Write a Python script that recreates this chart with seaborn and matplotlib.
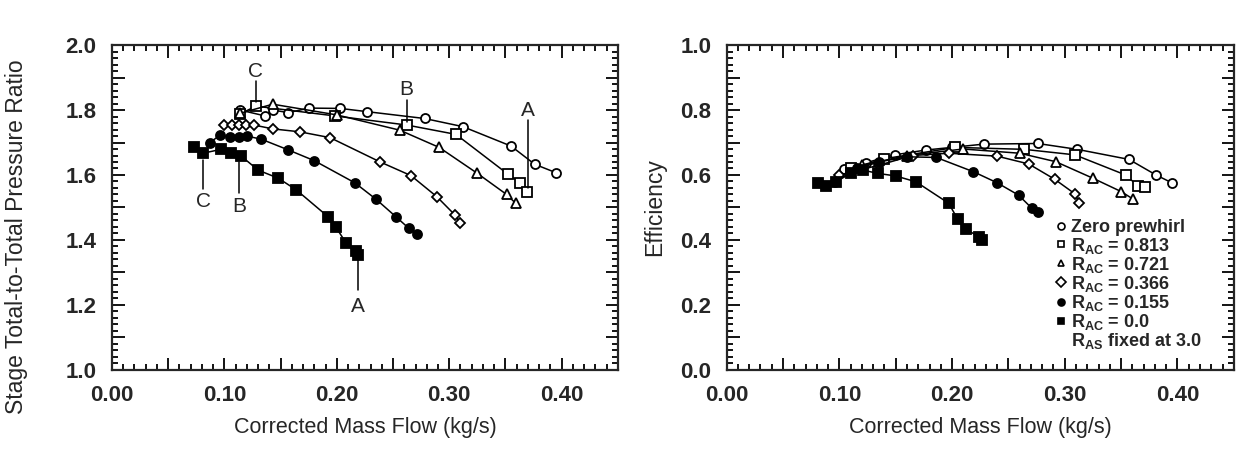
import numpy as np
import pandas as pd
import matplotlib
matplotlib.use("Agg")
import matplotlib.pyplot as plt
from matplotlib.lines import Line2D
from matplotlib.ticker import MultipleLocator
import seaborn as sns

# %% Data (mass flow in kg/s)
series_names = ["zero", "0.813", "0.721", "0.366", "0.155", "0.0"]

# Stage total-to-total pressure ratio
pr_zero_x = [0.114, 0.136, 0.143, 0.157, 0.175, 0.203, 0.227, 0.278, 0.312, 0.355, 0.376, 0.395]
pr_zero_y = [1.800, 1.782, 1.800, 1.792, 1.806, 1.805, 1.795, 1.774, 1.749, 1.689, 1.633, 1.607]
pr_813_x = [0.114, 0.128, 0.198, 0.262, 0.306, 0.352, 0.363, 0.369]
pr_813_y = [1.788, 1.812, 1.782, 1.754, 1.725, 1.603, 1.576, 1.549]
pr_721_x = [0.114, 0.143, 0.200, 0.256, 0.291, 0.325, 0.351, 0.359]
pr_721_y = [1.790, 1.818, 1.785, 1.738, 1.685, 1.605, 1.540, 1.513]
pr_366_x = [0.100, 0.107, 0.113, 0.119, 0.126, 0.143, 0.167, 0.194, 0.238, 0.266, 0.289, 0.305, 0.310]
pr_366_y = [1.754, 1.754, 1.754, 1.754, 1.754, 1.742, 1.733, 1.715, 1.641, 1.598, 1.533, 1.477, 1.451]
pr_155_x = [0.087, 0.096, 0.105, 0.113, 0.120, 0.133, 0.157, 0.180, 0.216, 0.235, 0.253, 0.264, 0.271]
pr_155_y = [1.699, 1.723, 1.716, 1.716, 1.720, 1.710, 1.677, 1.644, 1.576, 1.525, 1.470, 1.436, 1.418]
pr_0_x = [0.073, 0.081, 0.097, 0.106, 0.115, 0.130, 0.148, 0.164, 0.192, 0.199, 0.208, 0.217, 0.219]
pr_0_y = [1.685, 1.667, 1.679, 1.667, 1.658, 1.615, 1.590, 1.554, 1.472, 1.440, 1.392, 1.365, 1.354]

# Efficiency
eff_zero_x = [0.104, 0.124, 0.149, 0.177, 0.200, 0.228, 0.276, 0.311, 0.357, 0.381, 0.395]
eff_zero_y = [0.617, 0.638, 0.662, 0.677, 0.685, 0.695, 0.697, 0.679, 0.648, 0.600, 0.576]
eff_813_x = [0.110, 0.140, 0.203, 0.264, 0.309, 0.354, 0.365, 0.371]
eff_813_y = [0.620, 0.650, 0.685, 0.679, 0.662, 0.600, 0.566, 0.564]
eff_721_x = [0.120, 0.160, 0.210, 0.260, 0.292, 0.325, 0.350, 0.361]
eff_721_y = [0.630, 0.660, 0.680, 0.667, 0.641, 0.590, 0.549, 0.525]
eff_366_x = [0.100, 0.135, 0.165, 0.197, 0.240, 0.268, 0.291, 0.309, 0.313]
eff_366_y = [0.600, 0.630, 0.660, 0.667, 0.658, 0.634, 0.587, 0.542, 0.513]
eff_155_x = [0.096, 0.116, 0.135, 0.160, 0.186, 0.219, 0.240, 0.259, 0.271, 0.276]
eff_155_y = [0.579, 0.620, 0.640, 0.656, 0.654, 0.610, 0.576, 0.538, 0.497, 0.487]
eff_0_x = [0.081, 0.088, 0.097, 0.110, 0.121, 0.134, 0.150, 0.168, 0.197, 0.205, 0.212, 0.224, 0.227]
eff_0_y = [0.576, 0.566, 0.579, 0.605, 0.615, 0.605, 0.597, 0.579, 0.513, 0.464, 0.433, 0.410, 0.400]

legend_labels = ["Zero prewhirl",
                 r"$\mathregular{R_{AC}}$ = 0.813",
                 r"$\mathregular{R_{AC}}$ = 0.721",
                 r"$\mathregular{R_{AC}}$ = 0.366",
                 r"$\mathregular{R_{AC}}$ = 0.155",
                 r"$\mathregular{R_{AC}}$ = 0.0",
                 r"$\mathregular{R_{AS}}$ fixed at 3.0"]

# (label, x, y_text, y_line_top, y_line_bottom)
pr_callouts = [("C", 0.128, 1.918, 1.890, 1.826),
               ("B", 0.262, 1.862, 1.830, 1.762),
               ("A", 0.370, 1.800, 1.770, 1.560),
               ("C", 0.081, 1.518, 1.646, 1.556),
               ("B", 0.113, 1.503, 1.641, 1.546),
               ("A", 0.219, 1.195, 1.338, 1.246)]

# %% Build long tables
def make_frame(xs, ys):
    parts = []
    for name, x, y in zip(series_names, xs, ys):
        parts.append(pd.DataFrame({"series": name, "flow": x, "value": y}))
    return pd.concat(parts, ignore_index=True)


pr_df = make_frame([pr_zero_x, pr_813_x, pr_721_x, pr_366_x, pr_155_x, pr_0_x],
                   [pr_zero_y, pr_813_y, pr_721_y, pr_366_y, pr_155_y, pr_0_y])
eff_df = make_frame([eff_zero_x, eff_813_x, eff_721_x, eff_366_x, eff_155_x, eff_0_x],
                    [eff_zero_y, eff_813_y, eff_721_y, eff_366_y, eff_155_y, eff_0_y])

markers = {"zero": "o", "0.813": "s", "0.721": "^", "0.366": "D", "0.155": "o", "0.0": "s"}
faces = {"zero": "white", "0.813": "white", "0.721": "white", "0.366": "white",
         "0.155": "black", "0.0": "black"}
msizes = {"zero": 6.5, "0.813": 6.5, "0.721": 6.5, "0.366": 4.8, "0.155": 6.5, "0.0": 6.5}

# %% Style
sns.set_style("ticks")
plt.rcParams["font.family"] = ["Liberation Sans", "DejaVu Sans"]
plt.rcParams["mathtext.fontset"] = "custom"
plt.rcParams["mathtext.rm"] = "Liberation Sans"
plt.rcParams["mathtext.bf"] = "Liberation Sans:bold"
plt.rcParams["axes.linewidth"] = 1.6

fig = plt.figure(figsize=(12.4, 4.51), dpi=100)
ax1 = fig.add_axes([0.0903, 0.18, 0.408, 0.72])
ax2 = fig.add_axes([0.586, 0.18, 0.409, 0.72])


def draw(ax, df):
    for name in series_names:
        sub = df[df["series"] == name]
        sns.lineplot(data=sub, x="flow", y="value", sort=False, estimator=None,
                     color="black", lw=1.1, marker=markers[name],
                     markersize=msizes[name], markerfacecolor=faces[name],
                     markeredgecolor="black", markeredgewidth=1.3, ax=ax,
                     legend=False)


def style_axes(ax, ymin, ymax):
    ax.set_xlim(0, 0.45)
    ax.set_ylim(ymin, ymax)
    ax.xaxis.set_minor_locator(MultipleLocator(0.01))
    ax.yaxis.set_minor_locator(MultipleLocator(0.02))
    ax.tick_params(which="both", direction="in", top=True, right=True,
                   width=1.3, labelsize=16, color="black")
    ax.tick_params(which="major", length=9, pad=11)
    ax.tick_params(which="minor", length=4.5)
    xt = np.arange(0, 0.46, 0.05)
    ax.set_xticks(xt)
    ax.set_xticklabels(["%.2f" % v if i % 2 == 0 else "" for i, v in enumerate(xt)],
                       fontweight="bold")
    yt = np.arange(ymin, ymax + 0.01, 0.1)
    ax.set_yticks(yt)
    ax.set_yticklabels(["%.1f" % v if i % 2 == 0 else "" for i, v in enumerate(yt)],
                       fontweight="bold")
    ax.set_xlabel("Corrected Mass Flow (kg/s)", fontsize=15.5, labelpad=8)
    for s in ax.spines.values():
        s.set_visible(True)


draw(ax1, pr_df)
style_axes(ax1, 1.0, 2.0)
ax1.set_ylabel("Stage Total-to-Total Pressure Ratio", fontsize=16.5)
ax1.yaxis.set_label_coords(-0.166, 0.41)

for lab, x, yt_, y0, y1 in pr_callouts:
    ax1.text(x, yt_, lab, ha="center", va="center", fontsize=15)
    ax1.plot([x, x], [y0, y1], color="black", lw=1.1)

draw(ax2, eff_df)
style_axes(ax2, 0.0, 1.0)
ax2.set_ylabel("Efficiency", fontsize=16.5)
ax2.yaxis.set_label_coords(-0.12, 0.5)

handles = [Line2D([], [], ls="none", marker=markers[n], markersize=5,
                  markerfacecolor=faces[n], markeredgecolor="black",
                  markeredgewidth=1.2) for n in series_names]
handles.append(Line2D([], [], ls="none"))
ax2.legend(handles, legend_labels, loc="lower right", frameon=False,
           bbox_to_anchor=(0.955, 0.03), handlelength=0.5, handletextpad=0.3,
           labelspacing=-0.05, borderpad=0.0,
           prop={"family": "Liberation Sans", "weight": "bold", "size": 13})

plt.savefig("out.png", dpi=100)
